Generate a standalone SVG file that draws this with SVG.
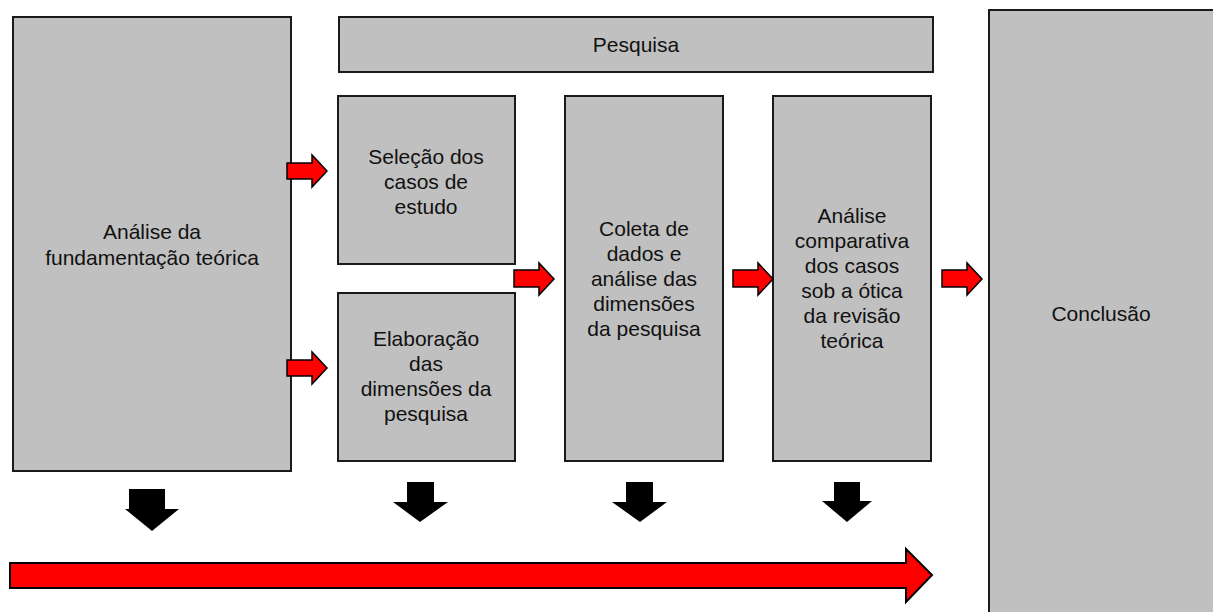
<svg xmlns="http://www.w3.org/2000/svg" width="1213" height="612" viewBox="0 0 1213 612">
<style>
.box{fill:#c0c0c0;stroke:#1a1a1a;stroke-width:2}
.t{font-family:"Liberation Sans",Arial,sans-serif;font-size:21px;fill:#111;text-anchor:middle}
.ra{fill:#ff0000;stroke:#000;stroke-width:1.5;stroke-linejoin:miter}
.ba{fill:#000}
</style>
<rect width="1213" height="612" fill="#fff"/>
<g id="fundamentacao">
<rect class="box" x="13" y="17" width="278" height="454"/>
<text class="t" x="152" y="239">Análise da</text>
<text class="t" x="152" y="265">fundamentação teórica</text>
</g>
<g id="pesquisa">
<rect class="box" x="339" y="17" width="594" height="55"/>
<text class="t" x="636" y="52">Pesquisa</text>
</g>
<g id="selecao">
<rect class="box" x="338" y="96" width="177" height="168"/>
<text class="t" x="426" y="164">Seleção dos</text>
<text class="t" x="426" y="189">casos de</text>
<text class="t" x="426" y="214">estudo</text>
</g>
<g id="elaboracao">
<rect class="box" x="338" y="293" width="177" height="168"/>
<text class="t" x="426" y="346">Elaboração</text>
<text class="t" x="426" y="371">das</text>
<text class="t" x="426" y="396">dimensões da</text>
<text class="t" x="426" y="421">pesquisa</text>
</g>
<g id="coleta">
<rect class="box" x="565" y="96" width="158" height="365"/>
<text class="t" x="644" y="236">Coleta de</text>
<text class="t" x="644" y="261">dados e</text>
<text class="t" x="644" y="286">análise das</text>
<text class="t" x="644" y="311">dimensões</text>
<text class="t" x="644" y="336">da pesquisa</text>
</g>
<g id="analise-comparativa">
<rect class="box" x="773" y="96" width="158" height="365"/>
<text class="t" x="852" y="223">Análise</text>
<text class="t" x="852" y="248">comparativa</text>
<text class="t" x="852" y="273">dos casos</text>
<text class="t" x="852" y="298">sob a ótica</text>
<text class="t" x="852" y="323">da revisão</text>
<text class="t" x="852" y="348">teórica</text>
</g>
<g id="conclusao">
<rect class="box" x="989" y="10" width="240" height="620"/>
<text class="t" x="1101" y="321">Conclusão</text>
</g>
<g id="connectors">
<polygon class="ra" points="287,163 312,163 312,155 327,171 312,187 312,179 287,179"/>
<polygon class="ra" points="287,360 312,360 312,352 327,368 312,384 312,376 287,376"/>
<polygon class="ra" points="514,270 539,270 539,263 554,279 539,295 539,287 514,287"/>
<polygon class="ra" points="733,270 758,270 758,263 773,279 758,295 758,287 733,287"/>
<polygon class="ra" points="942,270 967,270 967,263 982,279 967,295 967,287 942,287"/>
<polygon class="ba" points="129,489 165,489 165,509 179,509 152,531 125,509 129,509"/>
<polygon class="ba" points="407,482 434,482 434,502 448,502 420,522 393,502 407,502"/>
<polygon class="ba" points="626,482 653,482 653,502 667,502 640,522 612,502 626,502"/>
<polygon class="ba" points="834,482 860,482 860,501 872,501 847,522 822,501 834,501"/>
<polygon class="ra" style="stroke-width:2" points="10,563 906,563 906,549 932,575 906,602 906,588 10,588"/>
</g>
</svg>
